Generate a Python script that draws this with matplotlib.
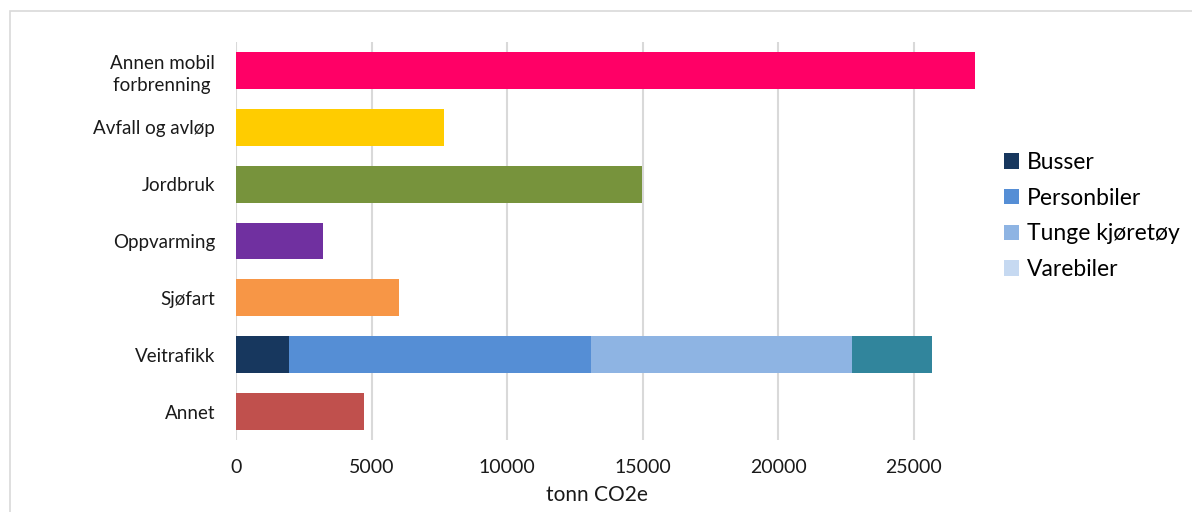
import matplotlib.pyplot as plt
import numpy as np
from matplotlib.patches import Patch, Rectangle

plt.rcParams["font.family"] = ["Lato", "DejaVu Sans"]

# categories top to bottom
categories = ["Annen mobil\nforbrenning ", "Avfall og avløp", "Jordbruk", "Oppvarming",
              "Sjøfart", "Veitrafikk", "Annet"]
# single-valued sectors (tonn CO2e)
sector_names = ["Annen mobil\nforbrenning ", "Avfall og avløp", "Jordbruk", "Oppvarming",
                "Sjøfart", "Annet"]
sector_values = [27270, 7675, 14980, 3210, 6015, 4720]
sector_colors = ["#FF0066", "#FFCC00", "#77933C", "#7030A0", "#F79646", "#C0504D"]

# road traffic split
road_name = "Veitrafikk"
road_parts = ["Busser", "Personbiler", "Tunge kjøretøy", "Varebiler"]
road_values = [1950, 11140, 9640, 2940]
road_colors = ["#17375E", "#558ED5", "#8EB4E3", "#31859C"]
legend_colors = ["#17375E", "#558ED5", "#8EB4E3", "#C6D9F1"]

W, H = 1192, 512
fig = plt.figure(figsize=(W / 100, H / 100), dpi=100)
# chart border
fig.patches.append(Rectangle((10 / W, -0.1), 1.2, (H - 11) / H + 0.1,
                             transform=fig.transFigure, fill=False,
                             edgecolor="#D9D9D9", linewidth=1.2))

ax = fig.add_axes([236 / W, (H - 440) / H, 754 / W, 398 / H])
pos = {c: i for i, c in enumerate(categories)}
bar_h = 0.65

for name, val, col in zip(sector_names, sector_values, sector_colors):
    ax.barh(pos[name], val, height=bar_h, color=col, zorder=2)

left = 0
for part, val, col in zip(road_parts, road_values, road_colors):
    ax.barh(pos[road_name], val, left=left, height=bar_h, color=col, zorder=2, label=part)
    left += val

ax.set_ylim(len(categories) - 0.5, -0.5)
ax.set_yticks(range(len(categories)))
ax.set_yticklabels(categories, fontsize=13.5, color="#1a1a1a", linespacing=1.35)
ax.set_xlim(0, 27820)
ax.set_xticks(np.arange(0, 25001, 5000))
ax.tick_params(axis="y", length=0, pad=15)
ax.tick_params(axis="x", length=0, pad=14, labelsize=14, labelcolor="#1a1a1a")
ax.grid(axis="x", color="#D9D9D9", linewidth=1.5, zorder=0)
for s in ax.spines.values():
    s.set_visible(False)

fig.text(597 / W, 1 - 495 / H, "tonn CO2e", ha="center", va="center",
         fontsize=15, color="#1a1a1a")

handles = [Patch(facecolor=c, edgecolor="none") for c in legend_colors]
fig.legend(handles, road_parts, loc="center left", bbox_to_anchor=(1004 / W, 1 - 216 / H),
           frameon=False, fontsize=16.5, handlelength=0.65, handleheight=0.65,
           handletextpad=0.35, labelspacing=0.64, borderpad=0, borderaxespad=0)

fig.savefig("out.png", dpi=100)
